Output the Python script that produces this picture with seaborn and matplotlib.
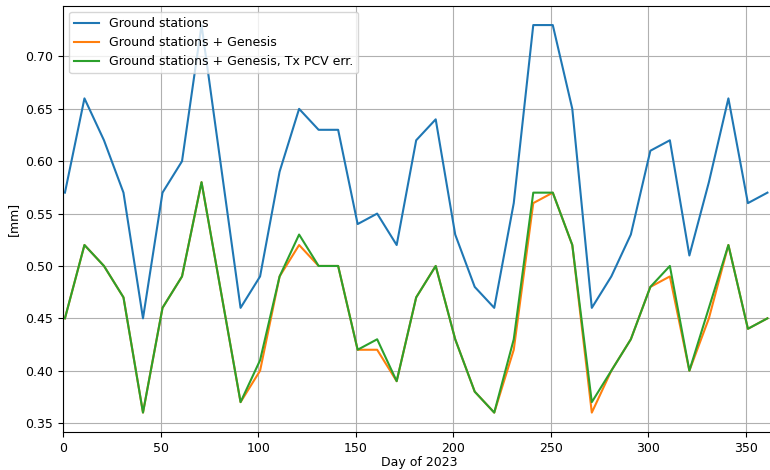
"""
Error RMS por dia - estaciones terrenas vs Genesis
"""

import pandas as pd
import numpy as np
import matplotlib
matplotlib.use('Agg')
import matplotlib.pyplot as plt
import seaborn as sns

# datos (cada 10 dias, falta el dia 81)
dias = [1, 11, 21, 31, 41, 51, 61, 71, 91, 101, 111, 121, 131, 141, 151, 161,
        171, 181, 191, 201, 211, 221, 231, 241, 251, 261, 271, 281, 291, 301,
        311, 321, 331, 341, 351, 361]

ground = [0.57, 0.66, 0.62, 0.57, 0.45, 0.57, 0.60, 0.73, 0.46, 0.49, 0.59, 0.65,
          0.63, 0.63, 0.54, 0.55, 0.52, 0.62, 0.64, 0.53, 0.48, 0.46, 0.56, 0.73,
          0.73, 0.65, 0.46, 0.49, 0.53, 0.61, 0.62, 0.51, 0.58, 0.66, 0.56, 0.57]

genesis = [0.45, 0.52, 0.50, 0.47, 0.36, 0.46, 0.49, 0.58, 0.37, 0.40, 0.49, 0.52,
           0.50, 0.50, 0.42, 0.42, 0.39, 0.47, 0.50, 0.43, 0.38, 0.36, 0.42, 0.56,
           0.57, 0.52, 0.36, 0.40, 0.43, 0.48, 0.49, 0.40, 0.45, 0.52, 0.44, 0.45]

genesis_pcv = [0.45, 0.52, 0.50, 0.47, 0.36, 0.46, 0.49, 0.58, 0.37, 0.41, 0.49, 0.53,
               0.50, 0.50, 0.42, 0.43, 0.39, 0.47, 0.50, 0.43, 0.38, 0.36, 0.43, 0.57,
               0.57, 0.52, 0.37, 0.40, 0.43, 0.48, 0.50, 0.40, 0.46, 0.52, 0.44, 0.45]

series = ['Ground stations', 'Ground stations + Genesis',
          'Ground stations + Genesis, Tx PCV err.']

# tabla larga para seaborn
df = pd.concat([
    pd.DataFrame({'dia': dias, 'valor': v, 'serie': s})
    for s, v in zip(series, [ground, genesis, genesis_pcv])
], ignore_index=True)

fig = plt.figure(figsize=(7.7, 4.7), dpi=100)
ax = fig.add_axes([0.0818, 0.0809, 0.925, 0.907])

sns.lineplot(data=df, x='dia', y='valor', hue='serie', hue_order=series,
             palette=['#1f77b4', '#ff7f0e', '#2ca02c'], linewidth=1.5, ax=ax)

ax.set_xlim(0, 365)
ax.set_xticks(np.arange(0, 351, 50))
ax.set_yticks(np.arange(0.35, 0.701, 0.05))
ax.yaxis.set_major_formatter(matplotlib.ticker.FormatStrFormatter('%.2f'))
ax.grid(True, color='#b0b0b0', linewidth=0.8)
ax.set_axisbelow(True)

ax.set_xlabel('Day of 2023', fontsize=9, labelpad=1)
ax.set_ylabel('[mm]', fontsize=9)
ax.tick_params(labelsize=9)
ax.legend(loc='upper left', fontsize=9, title=None)

plt.savefig('out.png', dpi=100)
plt.close()
